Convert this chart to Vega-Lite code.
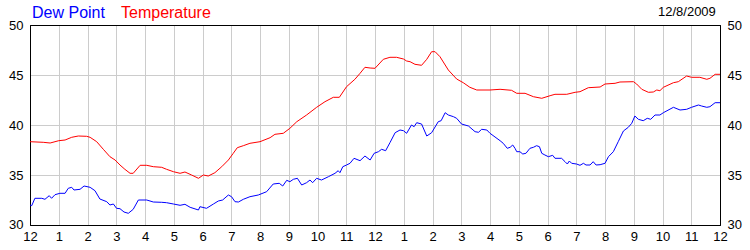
{
  "$schema": "https://vega.github.io/schema/vega-lite/v6.json",
  "width": 690,
  "height": 200,
  "autosize": {"type": "none"},
  "padding": {"left": 30, "top": 25, "right": 30, "bottom": 25},
  "background": "white",
  "view": {"stroke": "black", "strokeWidth": 1},
  "config": {
    "font": "Liberation Sans",
    "axis": {
      "labelFont": "Liberation Sans",
      "labelFontSize": 13,
      "labelColor": "black",
      "ticks": false,
      "domain": true,
      "domainColor": "black",
      "domainWidth": 1,
      "gridColor": "#cccccc",
      "gridWidth": 1,
      "gridOpacity": 1,
      "title": null
    }
  },
  "datasets": {
    "obs": [
      {"h": 0, "v": 38.33, "s": "Temperature"},
      {"h": 0.46, "v": 38.27, "s": "Temperature"},
      {"h": 0.7, "v": 38.2, "s": "Temperature"},
      {"h": 1.0, "v": 38.43, "s": "Temperature"},
      {"h": 1.22, "v": 38.5, "s": "Temperature"},
      {"h": 1.45, "v": 38.77, "s": "Temperature"},
      {"h": 1.68, "v": 38.9, "s": "Temperature"},
      {"h": 1.97, "v": 38.87, "s": "Temperature"},
      {"h": 2.09, "v": 38.77, "s": "Temperature"},
      {"h": 2.32, "v": 38.33, "s": "Temperature"},
      {"h": 2.55, "v": 37.57, "s": "Temperature"},
      {"h": 2.78, "v": 36.83, "s": "Temperature"},
      {"h": 2.96, "v": 36.5, "s": "Temperature"},
      {"h": 3.13, "v": 36.0, "s": "Temperature"},
      {"h": 3.3, "v": 35.57, "s": "Temperature"},
      {"h": 3.48, "v": 35.17, "s": "Temperature"},
      {"h": 3.59, "v": 35.17, "s": "Temperature"},
      {"h": 3.83, "v": 35.97, "s": "Temperature"},
      {"h": 4.06, "v": 35.97, "s": "Temperature"},
      {"h": 4.29, "v": 35.83, "s": "Temperature"},
      {"h": 4.58, "v": 35.77, "s": "Temperature"},
      {"h": 4.75, "v": 35.57, "s": "Temperature"},
      {"h": 4.99, "v": 35.33, "s": "Temperature"},
      {"h": 5.22, "v": 35.17, "s": "Temperature"},
      {"h": 5.39, "v": 35.3, "s": "Temperature"},
      {"h": 5.62, "v": 35.0, "s": "Temperature"},
      {"h": 5.86, "v": 34.67, "s": "Temperature"},
      {"h": 6.03, "v": 35.0, "s": "Temperature"},
      {"h": 6.2, "v": 34.9, "s": "Temperature"},
      {"h": 6.43, "v": 35.23, "s": "Temperature"},
      {"h": 6.67, "v": 35.83, "s": "Temperature"},
      {"h": 6.9, "v": 36.5, "s": "Temperature"},
      {"h": 7.07, "v": 37.17, "s": "Temperature"},
      {"h": 7.21, "v": 37.73, "s": "Temperature"},
      {"h": 7.42, "v": 37.93, "s": "Temperature"},
      {"h": 7.65, "v": 38.17, "s": "Temperature"},
      {"h": 8.0, "v": 38.33, "s": "Temperature"},
      {"h": 8.35, "v": 38.73, "s": "Temperature"},
      {"h": 8.52, "v": 39.07, "s": "Temperature"},
      {"h": 8.81, "v": 39.17, "s": "Temperature"},
      {"h": 9.04, "v": 39.67, "s": "Temperature"},
      {"h": 9.28, "v": 40.33, "s": "Temperature"},
      {"h": 9.62, "v": 41.0, "s": "Temperature"},
      {"h": 9.97, "v": 41.77, "s": "Temperature"},
      {"h": 10.26, "v": 42.33, "s": "Temperature"},
      {"h": 10.55, "v": 42.77, "s": "Temperature"},
      {"h": 10.76, "v": 42.77, "s": "Temperature"},
      {"h": 11.01, "v": 43.83, "s": "Temperature"},
      {"h": 11.3, "v": 44.57, "s": "Temperature"},
      {"h": 11.48, "v": 45.17, "s": "Temperature"},
      {"h": 11.65, "v": 45.77, "s": "Temperature"},
      {"h": 11.83, "v": 45.7, "s": "Temperature"},
      {"h": 12.0, "v": 45.67, "s": "Temperature"},
      {"h": 12.29, "v": 46.57, "s": "Temperature"},
      {"h": 12.52, "v": 46.77, "s": "Temperature"},
      {"h": 12.75, "v": 46.77, "s": "Temperature"},
      {"h": 12.99, "v": 46.6, "s": "Temperature"},
      {"h": 13.1, "v": 46.4, "s": "Temperature"},
      {"h": 13.22, "v": 46.33, "s": "Temperature"},
      {"h": 13.39, "v": 46.07, "s": "Temperature"},
      {"h": 13.62, "v": 45.97, "s": "Temperature"},
      {"h": 13.8, "v": 46.57, "s": "Temperature"},
      {"h": 13.97, "v": 47.33, "s": "Temperature"},
      {"h": 14.09, "v": 47.33, "s": "Temperature"},
      {"h": 14.26, "v": 46.83, "s": "Temperature"},
      {"h": 14.55, "v": 45.5, "s": "Temperature"},
      {"h": 14.84, "v": 44.6, "s": "Temperature"},
      {"h": 15.07, "v": 44.23, "s": "Temperature"},
      {"h": 15.3, "v": 43.77, "s": "Temperature"},
      {"h": 15.54, "v": 43.5, "s": "Temperature"},
      {"h": 16.0, "v": 43.5, "s": "Temperature"},
      {"h": 16.35, "v": 43.57, "s": "Temperature"},
      {"h": 16.75, "v": 43.47, "s": "Temperature"},
      {"h": 16.93, "v": 43.17, "s": "Temperature"},
      {"h": 17.22, "v": 43.17, "s": "Temperature"},
      {"h": 17.51, "v": 42.83, "s": "Temperature"},
      {"h": 17.8, "v": 42.67, "s": "Temperature"},
      {"h": 18.09, "v": 42.93, "s": "Temperature"},
      {"h": 18.26, "v": 43.07, "s": "Temperature"},
      {"h": 18.67, "v": 43.07, "s": "Temperature"},
      {"h": 18.96, "v": 43.27, "s": "Temperature"},
      {"h": 19.13, "v": 43.33, "s": "Temperature"},
      {"h": 19.42, "v": 43.73, "s": "Temperature"},
      {"h": 19.83, "v": 43.8, "s": "Temperature"},
      {"h": 20.0, "v": 44.1, "s": "Temperature"},
      {"h": 20.35, "v": 44.17, "s": "Temperature"},
      {"h": 20.52, "v": 44.3, "s": "Temperature"},
      {"h": 20.99, "v": 44.33, "s": "Temperature"},
      {"h": 21.1, "v": 44.1, "s": "Temperature"},
      {"h": 21.28, "v": 43.57, "s": "Temperature"},
      {"h": 21.51, "v": 43.27, "s": "Temperature"},
      {"h": 21.68, "v": 43.3, "s": "Temperature"},
      {"h": 21.8, "v": 43.5, "s": "Temperature"},
      {"h": 21.91, "v": 43.43, "s": "Temperature"},
      {"h": 22.03, "v": 43.77, "s": "Temperature"},
      {"h": 22.38, "v": 44.23, "s": "Temperature"},
      {"h": 22.55, "v": 44.33, "s": "Temperature"},
      {"h": 22.84, "v": 44.9, "s": "Temperature"},
      {"h": 23.01, "v": 44.77, "s": "Temperature"},
      {"h": 23.3, "v": 44.77, "s": "Temperature"},
      {"h": 23.54, "v": 44.57, "s": "Temperature"},
      {"h": 23.65, "v": 44.67, "s": "Temperature"},
      {"h": 23.83, "v": 45.07, "s": "Temperature"},
      {"h": 24.0, "v": 45.07, "s": "Temperature"},
      {"h": 0, "v": 32.0, "s": "Dew Point"},
      {"h": 0.06, "v": 31.93, "s": "Dew Point"},
      {"h": 0.17, "v": 32.67, "s": "Dew Point"},
      {"h": 0.41, "v": 32.67, "s": "Dew Point"},
      {"h": 0.52, "v": 32.57, "s": "Dew Point"},
      {"h": 0.67, "v": 32.93, "s": "Dew Point"},
      {"h": 0.75, "v": 32.67, "s": "Dew Point"},
      {"h": 0.87, "v": 33.03, "s": "Dew Point"},
      {"h": 1.04, "v": 33.17, "s": "Dew Point"},
      {"h": 1.22, "v": 33.17, "s": "Dew Point"},
      {"h": 1.33, "v": 33.67, "s": "Dew Point"},
      {"h": 1.45, "v": 33.77, "s": "Dew Point"},
      {"h": 1.53, "v": 33.5, "s": "Dew Point"},
      {"h": 1.74, "v": 33.57, "s": "Dew Point"},
      {"h": 1.88, "v": 33.9, "s": "Dew Point"},
      {"h": 2.09, "v": 33.77, "s": "Dew Point"},
      {"h": 2.26, "v": 33.43, "s": "Dew Point"},
      {"h": 2.43, "v": 32.6, "s": "Dew Point"},
      {"h": 2.67, "v": 32.33, "s": "Dew Point"},
      {"h": 2.78, "v": 32.0, "s": "Dew Point"},
      {"h": 2.9, "v": 32.1, "s": "Dew Point"},
      {"h": 3.01, "v": 31.67, "s": "Dew Point"},
      {"h": 3.13, "v": 31.63, "s": "Dew Point"},
      {"h": 3.27, "v": 31.3, "s": "Dew Point"},
      {"h": 3.42, "v": 31.17, "s": "Dew Point"},
      {"h": 3.59, "v": 31.57, "s": "Dew Point"},
      {"h": 3.77, "v": 32.5, "s": "Dew Point"},
      {"h": 4.06, "v": 32.5, "s": "Dew Point"},
      {"h": 4.29, "v": 32.3, "s": "Dew Point"},
      {"h": 4.58, "v": 32.27, "s": "Dew Point"},
      {"h": 4.75, "v": 32.23, "s": "Dew Point"},
      {"h": 4.99, "v": 32.1, "s": "Dew Point"},
      {"h": 5.22, "v": 31.97, "s": "Dew Point"},
      {"h": 5.39, "v": 32.07, "s": "Dew Point"},
      {"h": 5.57, "v": 31.77, "s": "Dew Point"},
      {"h": 5.86, "v": 31.5, "s": "Dew Point"},
      {"h": 5.91, "v": 31.83, "s": "Dew Point"},
      {"h": 6.14, "v": 31.67, "s": "Dew Point"},
      {"h": 6.38, "v": 32.1, "s": "Dew Point"},
      {"h": 6.55, "v": 32.4, "s": "Dew Point"},
      {"h": 6.7, "v": 32.5, "s": "Dew Point"},
      {"h": 6.9, "v": 33.0, "s": "Dew Point"},
      {"h": 7.01, "v": 32.83, "s": "Dew Point"},
      {"h": 7.13, "v": 32.33, "s": "Dew Point"},
      {"h": 7.25, "v": 32.3, "s": "Dew Point"},
      {"h": 7.42, "v": 32.57, "s": "Dew Point"},
      {"h": 7.65, "v": 32.83, "s": "Dew Point"},
      {"h": 7.94, "v": 33.0, "s": "Dew Point"},
      {"h": 8.23, "v": 33.33, "s": "Dew Point"},
      {"h": 8.46, "v": 34.1, "s": "Dew Point"},
      {"h": 8.67, "v": 34.17, "s": "Dew Point"},
      {"h": 8.79, "v": 33.9, "s": "Dew Point"},
      {"h": 8.93, "v": 34.47, "s": "Dew Point"},
      {"h": 9.04, "v": 34.33, "s": "Dew Point"},
      {"h": 9.16, "v": 34.57, "s": "Dew Point"},
      {"h": 9.3, "v": 34.67, "s": "Dew Point"},
      {"h": 9.45, "v": 34.0, "s": "Dew Point"},
      {"h": 9.62, "v": 34.23, "s": "Dew Point"},
      {"h": 9.74, "v": 34.5, "s": "Dew Point"},
      {"h": 9.83, "v": 34.23, "s": "Dew Point"},
      {"h": 9.97, "v": 34.67, "s": "Dew Point"},
      {"h": 10.14, "v": 34.5, "s": "Dew Point"},
      {"h": 10.38, "v": 34.83, "s": "Dew Point"},
      {"h": 10.61, "v": 35.17, "s": "Dew Point"},
      {"h": 10.72, "v": 35.43, "s": "Dew Point"},
      {"h": 10.78, "v": 35.23, "s": "Dew Point"},
      {"h": 10.88, "v": 35.83, "s": "Dew Point"},
      {"h": 11.01, "v": 36.0, "s": "Dew Point"},
      {"h": 11.13, "v": 36.17, "s": "Dew Point"},
      {"h": 11.27, "v": 36.67, "s": "Dew Point"},
      {"h": 11.48, "v": 36.43, "s": "Dew Point"},
      {"h": 11.65, "v": 36.9, "s": "Dew Point"},
      {"h": 11.83, "v": 36.5, "s": "Dew Point"},
      {"h": 11.97, "v": 37.17, "s": "Dew Point"},
      {"h": 12.12, "v": 37.33, "s": "Dew Point"},
      {"h": 12.23, "v": 37.57, "s": "Dew Point"},
      {"h": 12.37, "v": 37.43, "s": "Dew Point"},
      {"h": 12.52, "v": 38.23, "s": "Dew Point"},
      {"h": 12.7, "v": 39.23, "s": "Dew Point"},
      {"h": 12.87, "v": 39.5, "s": "Dew Point"},
      {"h": 12.99, "v": 39.43, "s": "Dew Point"},
      {"h": 13.1, "v": 39.17, "s": "Dew Point"},
      {"h": 13.27, "v": 40.0, "s": "Dew Point"},
      {"h": 13.36, "v": 39.83, "s": "Dew Point"},
      {"h": 13.45, "v": 40.23, "s": "Dew Point"},
      {"h": 13.62, "v": 40.1, "s": "Dew Point"},
      {"h": 13.8, "v": 38.9, "s": "Dew Point"},
      {"h": 13.97, "v": 39.23, "s": "Dew Point"},
      {"h": 14.2, "v": 40.33, "s": "Dew Point"},
      {"h": 14.3, "v": 40.43, "s": "Dew Point"},
      {"h": 14.44, "v": 41.23, "s": "Dew Point"},
      {"h": 14.55, "v": 41.0, "s": "Dew Point"},
      {"h": 14.73, "v": 40.83, "s": "Dew Point"},
      {"h": 14.84, "v": 40.67, "s": "Dew Point"},
      {"h": 15.01, "v": 40.1, "s": "Dew Point"},
      {"h": 15.25, "v": 39.9, "s": "Dew Point"},
      {"h": 15.48, "v": 39.33, "s": "Dew Point"},
      {"h": 15.6, "v": 39.27, "s": "Dew Point"},
      {"h": 15.71, "v": 39.57, "s": "Dew Point"},
      {"h": 15.89, "v": 39.5, "s": "Dew Point"},
      {"h": 16.0, "v": 39.17, "s": "Dew Point"},
      {"h": 16.35, "v": 38.43, "s": "Dew Point"},
      {"h": 16.46, "v": 38.17, "s": "Dew Point"},
      {"h": 16.6, "v": 37.67, "s": "Dew Point"},
      {"h": 16.7, "v": 37.77, "s": "Dew Point"},
      {"h": 16.79, "v": 38.0, "s": "Dew Point"},
      {"h": 16.87, "v": 37.67, "s": "Dew Point"},
      {"h": 16.93, "v": 37.33, "s": "Dew Point"},
      {"h": 17.04, "v": 37.33, "s": "Dew Point"},
      {"h": 17.14, "v": 37.1, "s": "Dew Point"},
      {"h": 17.25, "v": 37.17, "s": "Dew Point"},
      {"h": 17.39, "v": 37.67, "s": "Dew Point"},
      {"h": 17.51, "v": 37.77, "s": "Dew Point"},
      {"h": 17.62, "v": 37.93, "s": "Dew Point"},
      {"h": 17.72, "v": 37.83, "s": "Dew Point"},
      {"h": 17.8, "v": 37.17, "s": "Dew Point"},
      {"h": 17.91, "v": 37.0, "s": "Dew Point"},
      {"h": 18.03, "v": 36.83, "s": "Dew Point"},
      {"h": 18.18, "v": 36.97, "s": "Dew Point"},
      {"h": 18.26, "v": 36.67, "s": "Dew Point"},
      {"h": 18.49, "v": 36.67, "s": "Dew Point"},
      {"h": 18.61, "v": 36.33, "s": "Dew Point"},
      {"h": 18.69, "v": 36.1, "s": "Dew Point"},
      {"h": 18.76, "v": 36.4, "s": "Dew Point"},
      {"h": 18.84, "v": 36.17, "s": "Dew Point"},
      {"h": 19.01, "v": 36.1, "s": "Dew Point"},
      {"h": 19.13, "v": 35.97, "s": "Dew Point"},
      {"h": 19.25, "v": 36.17, "s": "Dew Point"},
      {"h": 19.34, "v": 36.0, "s": "Dew Point"},
      {"h": 19.48, "v": 36.0, "s": "Dew Point"},
      {"h": 19.59, "v": 36.33, "s": "Dew Point"},
      {"h": 19.69, "v": 36.0, "s": "Dew Point"},
      {"h": 19.83, "v": 36.03, "s": "Dew Point"},
      {"h": 20.0, "v": 36.17, "s": "Dew Point"},
      {"h": 20.12, "v": 36.83, "s": "Dew Point"},
      {"h": 20.29, "v": 37.33, "s": "Dew Point"},
      {"h": 20.46, "v": 38.33, "s": "Dew Point"},
      {"h": 20.64, "v": 39.4, "s": "Dew Point"},
      {"h": 20.81, "v": 39.77, "s": "Dew Point"},
      {"h": 20.93, "v": 40.17, "s": "Dew Point"},
      {"h": 21.04, "v": 40.9, "s": "Dew Point"},
      {"h": 21.16, "v": 40.57, "s": "Dew Point"},
      {"h": 21.33, "v": 40.43, "s": "Dew Point"},
      {"h": 21.47, "v": 40.67, "s": "Dew Point"},
      {"h": 21.59, "v": 40.57, "s": "Dew Point"},
      {"h": 21.74, "v": 41.0, "s": "Dew Point"},
      {"h": 21.91, "v": 41.0, "s": "Dew Point"},
      {"h": 22.03, "v": 41.23, "s": "Dew Point"},
      {"h": 22.38, "v": 41.77, "s": "Dew Point"},
      {"h": 22.61, "v": 41.5, "s": "Dew Point"},
      {"h": 22.84, "v": 41.57, "s": "Dew Point"},
      {"h": 23.01, "v": 41.77, "s": "Dew Point"},
      {"h": 23.25, "v": 42.0, "s": "Dew Point"},
      {"h": 23.36, "v": 41.9, "s": "Dew Point"},
      {"h": 23.54, "v": 41.77, "s": "Dew Point"},
      {"h": 23.65, "v": 41.83, "s": "Dew Point"},
      {"h": 23.83, "v": 42.23, "s": "Dew Point"},
      {"h": 24.0, "v": 42.23, "s": "Dew Point"}
    ]
  },
  "data": {"name": "obs"},
  "layer": [
    {
      "mark": {"type": "line", "strokeWidth": 1, "clip": true},
      "encoding": {
        "x": {
          "field": "h",
          "type": "quantitative",
          "scale": {"domain": [0, 24], "nice": false, "zero": false},
          "axis": {
            "orient": "bottom",
            "values": [0,1,2,3,4,5,6,7,8,9,10,11,12,13,14,15,16,17,18,19,20,21,22,23,24],
            "labelExpr": "datum.value % 12 == 0 ? '12' : '' + (datum.value % 12)",
            "labelPadding": 5,
            "labelFlush": false,
            "labelOverlap": false,
            "grid": true,
            "gridOpacity": {"condition": {"test": "datum.value == 0 || datum.value == 24", "value": 0}, "value": 1}
          }
        },
        "y": {
          "field": "v",
          "type": "quantitative",
          "scale": {"domain": [30, 50], "nice": false, "zero": false},
          "axis": {
            "orient": "left",
            "values": [30.0001, 35, 40, 45, 49.9999],
            "labelExpr": "'' + round(datum.value)",
            "labelPadding": 7,
            "labelBaseline": "middle",
            "labelAlign": "right",
            "labelFlush": false,
            "labelBound": false,
            "labelOverlap": false,
            "grid": true,
            "gridOpacity": {"condition": {"test": "datum.value < 31 || datum.value > 49", "value": 0}, "value": 1}
          }
        },
        "color": {
          "field": "s",
          "type": "nominal",
          "scale": {"domain": ["Dew Point", "Temperature"], "range": ["#0000ff", "#ff0000"]},
          "legend": {
            "orient": "none",
            "legendX": -14,
            "legendY": -20,
            "direction": "horizontal",
            "title": null,
            "symbolSize": 0,
            "symbolStrokeWidth": 0,
            "symbolOpacity": 0,
            "labelOffset": 0,
            "columnPadding": -1,
            "labelFont": "Liberation Sans",
            "labelFontSize": 16,
            "labelColor": {"expr": "datum.label == 'Dew Point' ? '#0000ff' : '#ff0000'"}
          }
        }
      }
    },
    {
      "mark": {"type": "line", "strokeWidth": 1, "opacity": 0},
      "encoding": {
        "x": {
          "field": "h",
          "type": "quantitative",
          "axis": {"orient": "top", "labels": false, "grid": false, "domain": true}
        },
        "y": {
          "field": "v",
          "type": "quantitative",
          "axis": {
            "orient": "right",
            "values": [30.0001, 35, 40, 45, 49.9999],
            "labelExpr": "'' + round(datum.value)",
            "labelPadding": 7,
            "labelBaseline": "middle",
            "labelAlign": "left",
            "labelFlush": false,
            "labelBound": false,
            "labelOverlap": false,
            "grid": false
          }
        },
        "detail": {"field": "s"},
        "strokeDash": {
          "datum": "12/8/2009",
          "type": "nominal",
          "legend": {
            "orient": "none",
            "legendX": 615,
            "legendY": -20,
            "title": null,
            "symbolSize": 0,
            "symbolStrokeWidth": 0,
            "symbolOpacity": 0,
            "labelOffset": 0,
            "labelFont": "Liberation Sans",
            "labelFontSize": 13,
            "labelColor": "black"
          }
        }
      }
    }
  ],
  "resolve": {"axis": {"x": "independent", "y": "independent"}}
}
